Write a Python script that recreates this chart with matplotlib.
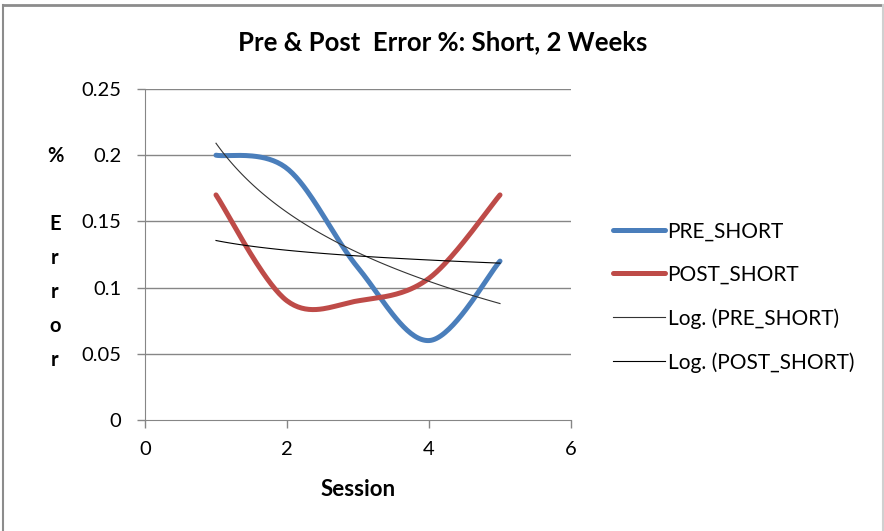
import numpy as np
import matplotlib
matplotlib.use("Agg")
import matplotlib.pyplot as plt
from matplotlib.lines import Line2D

plt.rcParams['font.family'] = ['Lato', 'DejaVu Sans']

# data
sessions = [1, 2, 3, 4, 5]
pre_short = [0.20, 0.19, 0.115, 0.06, 0.12]
post_short = [0.17, 0.09, 0.09, 0.107, 0.17]
x_ticks = [0, 2, 4, 6]
y_ticks = [0, 0.05, 0.1, 0.15, 0.2, 0.25]
y_tick_labels = ["0", "0.05", "0.1", "0.15", "0.2", "0.25"]


def smooth(xs, ys, n=40):
    # Excel-style smoothed line: Catmull-Rom through the points as cubic Bezier
    p = np.column_stack([xs, ys]).astype(float)
    p = np.vstack([p[0], p, p[-1]])
    out = []
    t = np.linspace(0, 1, n)[:, None]
    for i in range(1, len(p) - 2):
        p0, p3 = p[i], p[i + 1]
        c1 = p0 + (p[i + 1] - p[i - 1]) / 6
        c2 = p3 - (p[i + 2] - p[i]) / 6
        seg = ((1 - t) ** 3) * p0 + 3 * ((1 - t) ** 2) * t * c1 + 3 * (1 - t) * t ** 2 * c2 + t ** 3 * p3
        out.append(seg if i == 1 else seg[1:])
    out = np.vstack(out)
    return out[:, 0], out[:, 1]


def log_trend(xs, ys):
    b, a = np.polyfit(np.log(xs), ys, 1)
    xx = np.linspace(xs[0], xs[-1], 100)
    return xx, a + b * np.log(xx)


fig = plt.figure(figsize=(8.84, 5.31), dpi=100)
ax = fig.add_axes([145 / 884, 1 - 420 / 531, 426 / 884, 331 / 531])

gray = "#868686"
for y in y_ticks[1:]:
    ax.axhline(y, color=gray, lw=1.0, zorder=1)

sx, sy = smooth(sessions, pre_short)
ax.plot(sx, sy, color="#4A7EBB", lw=3.6, solid_capstyle="round", label="PRE_SHORT", zorder=3)
sx, sy = smooth(sessions, post_short)
ax.plot(sx, sy, color="#BE4B48", lw=3.6, solid_capstyle="round", label="POST_SHORT", zorder=3)

tx, ty = log_trend(sessions, pre_short)
ax.plot(tx, ty, color="#333333", lw=0.8, label="Log. (PRE_SHORT)", zorder=4)
tx, ty = log_trend(sessions, post_short)
ax.plot(tx, ty, color="black", lw=0.8, label="Log. (POST_SHORT)", zorder=4)

ax.set_xlim(0, 6)
ax.set_ylim(0, 0.25)
ax.set_xticks(x_ticks)
ax.set_yticks(y_ticks)
ax.set_yticklabels(y_tick_labels)

for side in ["top", "right"]:
    ax.spines[side].set_visible(False)
for side in ["left", "bottom"]:
    ax.spines[side].set_color(gray)
ax.tick_params(axis="both", colors=gray, length=6, width=1, labelsize=14.5, labelcolor="black")
ax.tick_params(axis="y", pad=11)
ax.tick_params(axis="x", pad=9)

ax.set_xlabel("Session", fontsize=16, fontweight="bold", labelpad=15)
fig.text(55 / 884, 1 - 258 / 531, "%\n\nE\nr\nr\no\nr", fontsize=14.5, fontweight="bold",
         ha="center", va="center", linespacing=1.87)

fig.text(443 / 884, 1 - 42 / 531, "Pre & Post  Error %: Short, 2 Weeks", fontsize=18.5,
         fontweight="bold", ha="center", va="center")

ax.legend(loc="center left", bbox_to_anchor=(605 / 884, 1 - 297 / 531), bbox_transform=fig.transFigure,
          frameon=False, fontsize=15, handlelength=2.5, handletextpad=0.1, labelspacing=1.12,
          borderaxespad=0)

# chart frame
fig.add_artist(Line2D([3 / 884, 883 / 884], [1 - 4.5 / 531, 1 - 4.5 / 531], color="#8c8c8c", lw=2))
fig.add_artist(Line2D([3 / 884, 3 / 884], [0, 1 - 4.5 / 531], color="#8c8c8c", lw=1.5))
fig.add_artist(Line2D([883 / 884, 883 / 884], [0, 1 - 4.5 / 531], color="#d0d0d0", lw=1.5))

fig.savefig("out.png", dpi=100)
